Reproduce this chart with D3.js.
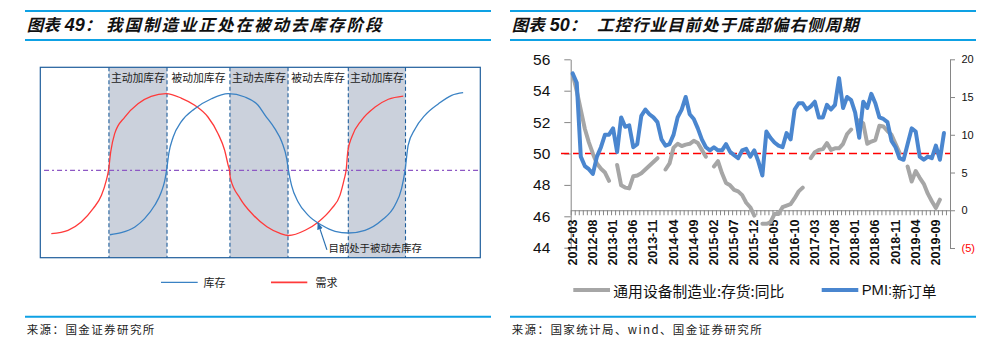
<!DOCTYPE html>
<html>
<head>
<meta charset="utf-8">
<script src="https://cdn.jsdelivr.net/npm/d3@7"></script>
<style>
  html, body { margin: 0; padding: 0; background: #fff; }
  svg { display: block; }
</style>
</head>
<body>
<svg id="fig" width="1003" height="349"></svg>
<script>
// ================= Figure 49: inventory-cycle schematic =================
const cycleTitleNo = "49";
const cycleTitle = "我国制造业正处在被动去库存阶段";
const cycleSource = "来源：国金证券研究所";
const phaseLabels = ["主动加库存", "被动加库存", "主动去库存", "被动去库存", "主动加库存"];
const phaseBounds = [15.6, 28.8, 43.1, 56.3, 70.0, 83.0];   // time units, 0–100
const shadedPhases = [0, 2, 4];
// [time, level] relative to the neutral line (0)
const demandCurve = [
  [2.5,-72.5],[6.3,-68.6],[9.3,-59.1],[12.0,-43.9],[13.9,-28.6],[15.0,-11.4],[15.5,0],
  [16.0,21],[16.9,42],[19.2,61],[22.2,76.3],[25.2,84.8],[28.6,87.8],[32.0,82.8],
  [35.1,74.5],[38.1,61.1],[40.4,42],[41.9,23],[42.7,5.8],[43.0,0],[43.2,-9],
  [45.4,-32],[48.4,-51.1],[51.5,-64.5],[54.5,-72.1],[56.4,-74.6],[60.2,-68.6],
  [63.2,-59.1],[66.2,-43.9],[68.1,-28.6],[69.1,-9.5],[69.5,0],[69.9,22],[70.8,38.2],
  [73.0,57.3],[76.1,72.5],[79.1,81.4],[82.5,85.1]
];
const inventoryCurve = [
  [15.8,-73.7],[18.4,-71.4],[21.5,-64.8],[23.7,-55.3],[26.0,-40],[27.5,-24.8],[28.3,-11.4],
  [28.7,0],[29.2,19.1],[30.2,38.2],[32.0,55.4],[35.1,70.6],[38.9,82],[42.7,87.8],
  [46.5,84],[49.5,74.5],[51.1,63],[53.3,47.7],[54.9,32.5],[56.0,13.4],[56.4,0],
  [57.1,-17.1],[58.6,-36.2],[60.9,-51.5],[64.0,-62.9],[67.0,-69.8],[70.0,-71.7],
  [73.8,-68.6],[77.6,-57.2],[80.6,-40],[82.1,-21],[82.9,0],[83.6,28.7],[85.2,47.7],
  [87.4,63],[90.5,76.3],[93.5,85.9],[96.1,88.9]
];
const cycleNote = { t: 63.1, v: -59, text: "目前处于被动去库存" };
const cycleLegend = [
  { name: "库存", color: "#3a82c4" },
  { name: "需求", color: "#ff3a3a" }
];

// ================= Figure 50: automation cycle =================
const cycleTitleNo2 = "50";
const automationTitle = "工控行业目前处于底部偏右侧周期";
const automationSource = "来源：国家统计局、wind、国金证券研究所";
const monthStart = new Date(2012, 2, 1);   // 2012-03
const monthStop = new Date(2020, 0, 1);    // through 2019-12
const xTickLabels = ["2012-03","2012-08","2013-01","2013-06","2013-11","2014-04","2014-09",
  "2015-02","2015-07","2015-12","2016-05","2016-10","2017-03","2017-08","2018-01",
  "2018-06","2018-11","2019-04","2019-09"];
const leftTicks = [44, 46, 48, 50, 52, 54, 56];
const rightTicks = [-5, 0, 5, 10, 15, 20];
const pmiThreshold = 50;
// PMI new orders index, 2012-03 .. 2019-11
const pmiNewOrders = [
  55.1, 54.5, 49.8, 49.2, 49.0, 48.7, 49.8, 50.4, 51.2, 51.2,
  51.6, 50.1, 52.3, 51.7, 51.8, 50.4, 50.6, 52.4, 52.8, 52.5, 52.3, 52.0,
  50.9, 50.5, 50.6, 51.2, 52.3, 52.8, 53.6, 52.5, 52.2, 51.6, 50.9, 50.4,
  50.2, 50.4, 50.2, 50.2, 50.6, 50.1, 49.9, 49.7, 50.2, 50.3, 49.8, 50.2,
  49.5, 48.6, 51.4, 51.0, 50.7, 50.5, 50.4, 51.3, 50.9, 52.8, 53.2, 53.2,
  52.8, 53.0, 53.3, 52.3, 52.3, 53.1, 52.8, 53.1, 54.8, 52.9, 53.6, 53.4,
  52.6, 51.0, 53.3, 52.9, 53.8, 53.2, 52.3, 52.2, 52.0, 50.8, 50.4, 49.7,
  49.6, 50.6, 51.6, 51.4, 49.8, 49.6, 49.8, 49.7, 50.5, 49.6, 51.3
];
// General-equipment manufacturing inventory, YoY %, 2012-03 .. 2019-10 (no January release)
const equipInventoryYoY = [
  18.0, 15.8, 13.3, 10.8, 9.0, 7.5, 6.2, 5.5, 5.0, 3.9,
  null, 6.0, 3.3, 3.0, 2.9, 4.5, 4.6, 4.9, 5.4, 5.9, 6.4, 6.9,
  null, 5.4, 6.2, 8.3, 8.8, 8.5, 8.7, 8.8, 9.2, 8.9, 8.0, 7.1,
  null, 5.8, 6.5, 4.9, 3.6, 3.3, 2.7, 2.5, 2.0, 1.0, 0.4, -0.7,
  null, -1.8, -1.8, -1.6, -0.5, -0.5, 0.4, 0.6, 0.8, 1.6, 2.5, 3.0,
  null, 6.9, 7.7, 8.0, 8.1, 8.9, 8.0, 8.2, 8.2, 8.8, 10.1, 10.7,
  null, 11.9, 11.5, 8.8, 9.1, 9.3, 11.2, 11.1, 10.5, 10.0, 8.8, 7.6,
  null, 5.8, 3.8, 5.2, 4.3, 3.5, 2.2, 1.2, 0.3, 1.4
];
const seriesInfo = [
  { name: "通用设备制造业:存货:同比", color: "#a6a6a6" },
  { name: "PMI:新订单", color: "#4a86cf" }
];

// ----------------------------------------------------------------
const svg = d3.select("#fig");
const CJK = "'Noto Sans CJK SC', 'Noto Sans', sans-serif";
const LAT = "'Liberation Sans', Arial, sans-serif";
const RULE = "#0ea1e4";

// Title band + source band for one panel
function panelFrame(x0, x1, no, title, titleX, spacing, source) {
  svg.append("line").attr("x1", x0).attr("x2", x1).attr("y1", 11).attr("y2", 11)
    .attr("stroke", RULE).attr("stroke-width", 2);
  svg.append("line").attr("x1", x0).attr("x2", x1).attr("y1", 40).attr("y2", 40)
    .attr("stroke", RULE).attr("stroke-width", 2);
  const t = svg.append("text").attr("x", x0 + 1.7).attr("y", 31)
    .attr("font-family", CJK).attr("font-weight", "bold").attr("font-style", "italic")
    .attr("font-size", 16.5).attr("fill", "#111");
  t.append("tspan").text("图表");
  t.append("tspan").attr("dx", 5).attr("font-family", LAT).attr("font-size", 18).text(no);
  t.append("tspan").text("：");
  svg.append("text").attr("x", titleX).attr("y", 31)
    .attr("font-family", CJK).attr("font-weight", "bold").attr("font-style", "italic")
    .attr("font-size", 16.5).attr("letter-spacing", spacing).attr("fill", "#111")
    .text(title);
  svg.append("line").attr("x1", x0).attr("x2", x1).attr("y1", 316.7).attr("y2", 316.7)
    .attr("stroke", RULE).attr("stroke-width", 2);
  svg.append("text").attr("x", x0 + 1.7).attr("y", 333.5)
    .attr("font-family", CJK).attr("font-size", 11.5).attr("letter-spacing", 1.4)
    .attr("fill", "#222").text(source);
}

panelFrame(25, 491, cycleTitleNo, cycleTitle, 106, 2, cycleSource);
panelFrame(510, 976, cycleTitleNo2, automationTitle, 597, 1, automationSource);

// ================= Left panel =================
(function () {
  const box = { l: 40.3, r: 480.3, t: 67.3, b: 257.7 };
  const x = d3.scaleLinear().domain([0, 100]).range([box.l, box.r]);
  const y = d3.scaleLinear().domain([-100, 118]).range([box.b, box.t]);
  const g = svg.append("g");
  const frameColor = "#1f5e9c";

  // shaded active phases
  g.selectAll("rect.phase").data(shadedPhases).join("rect")
    .attr("x", i => x(phaseBounds[i]))
    .attr("width", i => x(phaseBounds[i + 1]) - x(phaseBounds[i]))
    .attr("y", box.t).attr("height", box.b - box.t)
    .attr("fill", "#cbd1dc");

  // neutral line
  g.append("line").attr("x1", x(0.85)).attr("x2", x(100)).attr("y1", y(0)).attr("y2", y(0))
    .attr("stroke", "#8d58c4").attr("stroke-width", 1.4).attr("stroke-dasharray", "5,3,2,3");

  // phase boundaries
  g.selectAll("line.bound").data(phaseBounds).join("line")
    .attr("x1", d => x(d)).attr("x2", d => x(d)).attr("y1", box.t).attr("y2", box.b)
    .attr("stroke", frameColor).attr("stroke-width", 1.1).attr("stroke-dasharray", "4,2.5");

  // phase names
  g.selectAll("text.phase").data(phaseLabels).join("text")
    .attr("x", (d, i) => (x(phaseBounds[i]) + x(phaseBounds[i + 1])) / 2)
    .attr("y", 77).attr("text-anchor", "middle").attr("dominant-baseline", "central")
    .attr("font-family", CJK).attr("font-size", 10.8).attr("fill", "#222")
    .text(d => d);

  const line = d3.line().x(d => x(d[0])).y(d => y(d[1])).curve(d3.curveMonotoneX);
  g.append("path").attr("d", line(demandCurve)).attr("fill", "none")
    .attr("stroke", cycleLegend[1].color).attr("stroke-width", 1.3);
  g.append("path").attr("d", line(inventoryCurve)).attr("fill", "none")
    .attr("stroke", cycleLegend[0].color).attr("stroke-width", 1.3);

  // annotation
  const defs = svg.append("defs");
  defs.append("marker").attr("id", "arrowHead").attr("viewBox", "0 0 10 10")
    .attr("refX", 9).attr("refY", 5).attr("markerWidth", 6).attr("markerHeight", 6)
    .attr("orient", "auto-start-reverse")
    .append("path").attr("d", "M0,1 L10,5 L0,9 Z").attr("fill", "#2a6fb0");
  const hx = x(cycleNote.t), hy = y(cycleNote.v);
  g.append("line").attr("x1", hx + 9).attr("y1", hy + 28).attr("x2", hx).attr("y2", hy + 1)
    .attr("stroke", "#2a6fb0").attr("stroke-width", 1.2).attr("marker-end", "url(#arrowHead)");
  g.append("text").attr("x", hx + 10.5).attr("y", hy + 26).attr("dominant-baseline", "central")
    .attr("font-family", CJK).attr("font-size", 10.4).attr("fill", "#222").text(cycleNote.text);

  // frame
  g.append("rect").attr("x", box.l).attr("y", box.t).attr("width", box.r - box.l)
    .attr("height", box.b - box.t).attr("fill", "none").attr("stroke", frameColor)
    .attr("stroke-width", 1.2);

  // legend
  const lg = [{ x0: 161, x1: 197.7, tx: 203.5 }, { x0: 271, x1: 307.3, tx: 315.5 }];
  cycleLegend.forEach((s, i) => {
    g.append("line").attr("x1", lg[i].x0).attr("x2", lg[i].x1).attr("y1", 282.3).attr("y2", 282.3)
      .attr("stroke", s.color).attr("stroke-width", i === 0 ? 1.3 : 1.8);
    g.append("text").attr("x", lg[i].tx).attr("y", 282).attr("dominant-baseline", "central")
      .attr("font-family", CJK).attr("font-size", 11).attr("fill", "#222").text(s.name);
  });
})();

// ================= Right panel =================
(function () {
  const months = d3.timeMonth.range(monthStart, monthStop);
  const fmt = d3.timeFormat("%Y-%m");
  const categories = months.map(fmt);
  const L = 570.7, R = 950, T = 59.3;
  const x = d3.scaleBand().domain(categories).range([L, R]);
  const bw = x.bandwidth();
  const cx = c => x(c) + bw / 2;
  const yL = d3.scaleLinear().domain([44, 56]).range([247.7, T]);
  const yR = d3.scaleLinear().domain([-5, 20]).range([248, T]);
  const axisGray = "#868686";
  const g = svg.append("g");

  // left axis
  const ax = g.append("g").attr("transform", `translate(${L},0)`)
    .call(d3.axisLeft(yL).tickValues(leftTicks).tickSize(6.4).tickPadding(14).tickSizeOuter(0));
  ax.select(".domain").attr("stroke", axisGray);
  ax.selectAll(".tick line").attr("stroke", axisGray);
  ax.selectAll("text").attr("font-family", LAT).attr("font-size", 15.5).attr("fill", "#111");

  // right axis
  const ar = g.append("g").attr("transform", `translate(${R},0)`)
    .call(d3.axisRight(yR).tickValues(rightTicks).tickSize(5).tickPadding(6.5).tickSizeOuter(0)
      .tickFormat(d => d < 0 ? `(${-d})` : d));
  ar.select(".domain").attr("stroke", axisGray);
  ar.selectAll(".tick line").attr("stroke", axisGray);
  ar.selectAll("text").attr("font-family", LAT).attr("font-size", 11)
    .attr("fill", d => d < 0 ? "#ff0000" : "#111");

  // category axis crossing at zero of the secondary axis
  const edge = d3.scaleLinear().domain([0, categories.length]).range([L, R]);
  const axb = g.append("g").attr("transform", `translate(0,${yR(0)})`)
    .call(d3.axisBottom(edge).tickValues(d3.range(categories.length + 1)).tickSize(5)
      .tickFormat("").tickSizeOuter(0));
  axb.select(".domain").attr("stroke", axisGray);
  axb.selectAll(".tick line").attr("stroke", axisGray);

  g.selectAll("text.xl").data(xTickLabels).join("text")
    .attr("transform", d => `translate(${cx(d)},219.5) rotate(-90)`)
    .attr("text-anchor", "end").attr("dominant-baseline", "central")
    .attr("font-family", LAT).attr("font-weight", "bold").attr("font-size", 12.5)
    .attr("fill", "#111").text(d => d);

  // threshold line
  g.append("line").attr("x1", 561).attr("x2", R).attr("y1", yL(pmiThreshold)).attr("y2", yL(pmiThreshold))
    .attr("stroke", "#ff0000").attr("stroke-width", 1.4).attr("stroke-dasharray", "8,4");

  // inventory series (secondary axis)
  const invLine = d3.line().defined(d => d[1] !== null)
    .x(d => cx(categories[d[0]])).y(d => yR(d[1]));
  g.append("path").attr("d", invLine(equipInventoryYoY.map((v, i) => [i, v])))
    .attr("fill", "none").attr("stroke", seriesInfo[0].color).attr("stroke-width", 4)
    .attr("stroke-linejoin", "round").attr("stroke-linecap", "round");

  // PMI new orders (primary axis)
  const pmiLine = d3.line().x(d => cx(categories[d[0]])).y(d => yL(d[1]));
  g.append("path").attr("d", pmiLine(pmiNewOrders.map((v, i) => [i, v])))
    .attr("fill", "none").attr("stroke", seriesInfo[1].color).attr("stroke-width", 4)
    .attr("stroke-linejoin", "round").attr("stroke-linecap", "round");

  // legend
  const lg = [{ x0: 573.3, x1: 610, tx: 613.3 }, { x0: 821.7, x1: 858.3, tx: 861.7 }];
  seriesInfo.forEach((s, i) => {
    g.append("line").attr("x1", lg[i].x0).attr("x2", lg[i].x1).attr("y1", 290).attr("y2", 290)
      .attr("stroke", s.color).attr("stroke-width", 4);
    const t = g.append("text").attr("x", lg[i].tx).attr("y", 290).attr("dominant-baseline", "central")
      .attr("font-size", 14.8).attr("fill", "#111").attr("font-family", CJK);
    if (i === 1) {
      t.append("tspan").attr("font-family", LAT).text("PMI:");
      t.append("tspan").text("新订单");
    } else {
      t.text(s.name);
    }
  });
})();
</script>
</body>
</html>
